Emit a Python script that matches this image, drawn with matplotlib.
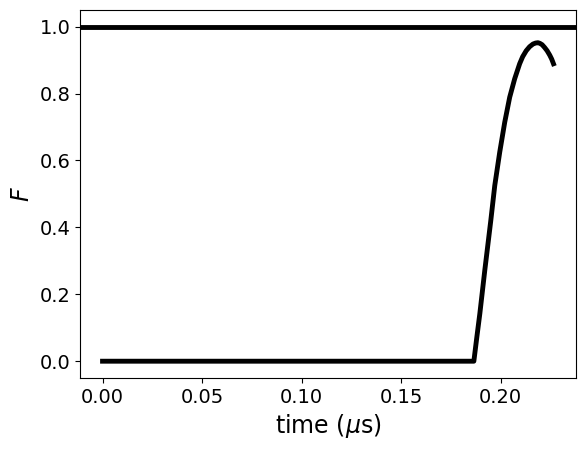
import numpy as np
import matplotlib
matplotlib.use("Agg")
import matplotlib.pyplot as plt

# fidelity vs time
time_flat = [0.0, 0.05, 0.10, 0.15, 0.1865]
F_flat = [0.0, 0.0, 0.0, 0.0, 0.0]

time_rise = [0.1880, 0.1895, 0.1920, 0.1950, 0.1970, 0.1995, 0.2020, 0.2045,
             0.2070, 0.2095, 0.2110, 0.2128, 0.2145, 0.2162, 0.2175, 0.2187,
             0.2197, 0.2208, 0.2220, 0.2233, 0.2246, 0.2256, 0.2265]
F_rise = [0.072, 0.142, 0.272, 0.420, 0.525, 0.625, 0.714, 0.789,
          0.844, 0.889, 0.910, 0.928, 0.940, 0.948, 0.951, 0.952,
          0.950, 0.946, 0.938, 0.928, 0.915, 0.903, 0.889]

t = np.array(time_flat + time_rise)
F = np.array(F_flat + F_rise)

fig = plt.figure(figsize=(5.86, 4.51), dpi=100)
ax = fig.add_axes([0.1365, 0.162, 0.8465, 0.816])
ax.plot(t, F, color="black", lw=3.5)
ax.axhline(1.0, color="black", lw=3.5)

ax.set_xlabel(r"time ($\mu$s)", fontsize=17)
ax.set_ylabel(r"$F$", fontsize=17)
ax.tick_params(labelsize=14)

fig.savefig("out.png", dpi=100)
